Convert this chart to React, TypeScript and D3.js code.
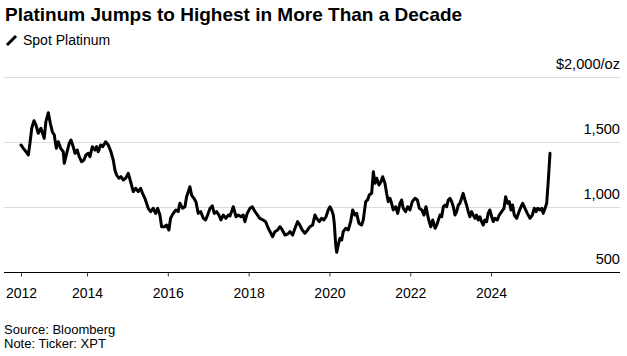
import React, { useEffect, useRef } from 'react';
import * as d3 from 'd3';

const TITLE = 'Platinum Jumps to Highest in More Than a Decade';
const LEGEND_LABEL = 'Spot Platinum';
const SOURCE = 'Source: Bloomberg';
const NOTE = 'Note: Ticker: XPT';

const Y_TICKS = [500, 1000, 1500, 2000];
const Y_TICK_LABELS = ['500', '1,000', '1,500', '$2,000/oz'];
const X_TICK_YEARS = ['2014-01-01', '2016-01-01', '2018-01-01', '2020-01-01', '2022-01-01', '2024-01-01'];

const DATES = [
  '2012-05-14','2012-06-04','2012-06-28','2012-07-19','2012-08-03','2012-08-19','2012-09-08','2012-09-26','2012-10-17','2012-11-10',
  '2012-11-25','2012-12-10','2012-12-25','2013-01-16','2013-02-03','2013-02-21','2013-03-11','2013-03-29','2013-04-16','2013-05-08',
  '2013-05-31','2013-06-09','2013-07-01','2013-07-24','2013-08-09','2013-08-29','2013-09-14','2013-10-04','2013-10-22','2013-11-13',
  '2013-12-04','2013-12-22','2014-01-12','2014-01-27','2014-02-18','2014-03-14','2014-03-28','2014-04-12','2014-05-04','2014-05-22',
  '2014-06-18','2014-07-12','2014-08-05','2014-08-26','2014-09-10','2014-09-25','2014-10-16','2014-11-03','2014-11-24','2014-12-16',
  '2015-01-09','2015-01-30','2015-02-23','2015-03-16','2015-04-09','2015-04-30','2015-05-18','2015-06-08','2015-07-08','2015-07-30',
  '2015-08-22','2015-09-13','2015-10-01','2015-10-22','2015-11-06','2015-11-29','2015-12-21','2016-01-11','2016-01-26','2016-02-19',
  '2016-03-14','2016-04-04','2016-04-19','2016-05-14','2016-06-04','2016-06-19','2016-07-19','2016-08-03','2016-08-24','2016-09-11',
  '2016-10-02','2016-10-24','2016-11-17','2016-12-08','2016-12-26','2017-01-17','2017-02-06','2017-02-24','2017-03-17','2017-04-07',
  '2017-04-25','2017-05-16','2017-06-09','2017-07-01','2017-07-16','2017-08-15','2017-09-09','2017-09-29','2017-10-24','2017-11-13',
  '2017-11-28','2017-12-19','2018-01-13','2018-02-03','2018-02-27','2018-03-22','2018-04-12','2018-05-12','2018-06-03','2018-06-27',
  '2018-07-21','2018-08-06','2018-08-26','2018-09-20','2018-10-11','2018-11-01','2018-11-25','2018-12-20','2019-01-10','2019-02-03',
  '2019-02-24','2019-03-19','2019-04-09','2019-04-30','2019-05-24','2019-06-18','2019-07-09','2019-08-02','2019-08-23','2019-09-07',
  '2019-10-01','2019-10-22','2019-11-12','2019-12-01','2019-12-21','2020-01-06','2020-01-21','2020-02-05','2020-02-14','2020-02-27',
  '2020-03-07','2020-03-21','2020-04-05','2020-04-21','2020-05-05','2020-05-27','2020-06-19','2020-07-11','2020-07-29','2020-08-19',
  '2020-09-03','2020-09-24','2020-10-18','2020-11-02','2020-11-24','2020-12-11','2020-12-26','2021-01-17','2021-02-01','2021-02-16',
  '2021-03-03','2021-03-24','2021-04-11','2021-04-26','2021-05-17','2021-06-01','2021-06-16','2021-07-01','2021-07-16','2021-07-31',
  '2021-08-22','2021-09-09','2021-09-30','2021-10-15','2021-10-29','2021-11-20','2021-12-08','2021-12-29','2022-01-19','2022-02-13',
  '2022-03-06','2022-03-24','2022-04-15','2022-05-05','2022-05-23','2022-06-13','2022-07-05','2022-07-23','2022-08-13','2022-08-28',
  '2022-09-12','2022-09-27','2022-10-12','2022-10-27','2022-11-11','2022-11-26','2022-12-11','2022-12-26','2023-01-10','2023-01-25',
  '2023-02-09','2023-02-24','2023-03-11','2023-03-26','2023-04-10','2023-04-24','2023-05-10','2023-05-25','2023-06-09','2023-06-24',
  '2023-07-09','2023-07-24','2023-08-08','2023-08-23','2023-09-07','2023-09-22','2023-10-08','2023-10-22','2023-11-06','2023-11-22',
  '2023-12-06','2023-12-21','2024-01-07','2024-01-21','2024-02-06','2024-02-27','2024-03-15','2024-04-06','2024-04-27','2024-05-12',
  '2024-05-30','2024-06-14','2024-06-29','2024-07-14','2024-07-29','2024-08-20','2024-09-10','2024-09-28','2024-10-13','2024-11-03',
  '2024-11-24','2024-12-18','2025-01-08','2025-01-26','2025-02-11','2025-02-26','2025-03-18','2025-04-03','2025-04-17','2025-05-03',
  '2025-05-18','2025-06-02','2025-06-17',
];

const VALUES = [
  1481,1455,1429,1404,1494,1609,1668,1635,1571,1609,
  1571,1532,1660,1729,1648,1583,1558,1455,1506,1455,
  1429,1340,1417,1494,1519,1468,1417,1442,1391,1352,
  1365,1404,1417,1391,1468,1442,1468,1429,1481,1468,
  1506,1481,1429,1365,1288,1250,1225,1237,1212,1225,
  1263,1198,1122,1148,1122,1148,1109,1071,994,968,
  994,955,994,942,852,852,865,827,917,955,
  981,968,1032,994,1006,1083,1160,1096,1071,1045,
  955,968,917,904,942,994,1012,955,968,942,
  904,942,917,942,935,1006,929,942,929,942,
  891,955,994,1006,968,942,917,904,891,840,
  802,775,814,827,852,827,788,796,814,788,
  840,891,865,827,802,827,852,865,942,917,
  891,917,904,929,981,1006,981,942,878,712,
  655,712,763,750,814,840,827,891,981,942,
  955,878,865,904,1045,1058,1096,1109,1275,1186,
  1225,1173,1198,1237,1186,1109,1045,1071,1032,981,
  1006,955,1032,1058,994,968,1006,981,1045,1071,
  1058,994,981,942,1006,917,852,904,840,865,
  904,942,929,1006,1019,1006,1058,1071,1045,1006,
  942,968,1019,1032,1071,1109,1058,1019,968,929,
  968,942,917,942,904,929,891,865,904,891,
  955,981,929,891,917,904,942,968,994,1083,
  1032,1045,981,1019,942,917,968,1006,1032,994,
  955,917,942,994,968,994,981,994,955,994,
  1032,1212,1417,
];

const FONT = '"Liberation Sans", Arial, Helvetica, sans-serif';

export default function App() {
  const ref = useRef<SVGSVGElement>(null);

  useEffect(() => {
    const svg = d3.select(ref.current);
    svg.selectAll('*').remove();

    const parse = d3.utcParse('%Y-%m-%d');
    const data = DATES.map((d, i) => ({ date: parse(d) as Date, value: VALUES[i] }));

    const plotLeft = 21;
    const plotRight = 550;
    const gridLeft = 4;
    const gridRight = 620;

    const x = d3
      .scaleUtc()
      .domain(d3.extent(data, (d) => d.date) as [Date, Date])
      .range([plotLeft, plotRight]);
    const y = d3.scaleLinear().domain([500, 2000]).range([272.5, 77.5]);

    // Title
    svg
      .append('text')
      .attr('x', 5)
      .attr('y', 21)
      .attr('font-family', FONT)
      .attr('font-weight', 700)
      .attr('font-size', 19)
      .attr('fill', '#000')
      .text(TITLE);

    // Legend
    svg
      .append('line')
      .attr('x1', 7)
      .attr('y1', 45)
      .attr('x2', 16)
      .attr('y2', 36)
      .attr('stroke', '#000')
      .attr('stroke-width', 3)
      .attr('stroke-linecap', 'butt');
    svg
      .append('text')
      .attr('x', 23)
      .attr('y', 45)
      .attr('font-family', FONT)
      .attr('font-size', 14)
      .attr('fill', '#000')
      .text(LEGEND_LABEL);

    // Gridlines
    const grid = svg.append('g');
    grid
      .selectAll('line')
      .data(Y_TICKS.filter((t) => t !== 500))
      .join('line')
      .attr('x1', gridLeft)
      .attr('x2', gridRight)
      .attr('y1', (d) => y(d))
      .attr('y2', (d) => y(d))
      .attr('stroke', '#dcdcdc')
      .attr('stroke-width', 1);

    // Y labels
    svg
      .append('g')
      .selectAll('text')
      .data(Y_TICKS)
      .join('text')
      .attr('x', gridRight)
      .attr('y', (d) => y(d) - 9)
      .attr('text-anchor', 'end')
      .attr('font-family', FONT)
      .attr('font-size', 14.6)
      .attr('fill', '#000')
      .text((d, i) => Y_TICK_LABELS[i]);

    // X axis
    const tickDates = [data[0].date, ...X_TICK_YEARS.map((s) => parse(s) as Date)];
    const xAxis = d3
      .axisBottom(x)
      .tickValues(tickDates)
      .tickFormat((d) => d3.utcFormat('%Y')(d as Date))
      .tickSize(4)
      .tickPadding(11.5);
    const gx = svg.append('g').attr('transform', `translate(0,${y(500)})`).call(xAxis);
    gx.select('.domain').remove();
    gx.selectAll('.tick line').attr('stroke', '#333');
    gx.selectAll('.tick text')
      .attr('font-family', FONT)
      .attr('font-size', 14)
      .attr('fill', '#000');

    svg
      .append('line')
      .attr('x1', gridLeft)
      .attr('x2', gridRight)
      .attr('y1', y(500))
      .attr('y2', y(500))
      .attr('stroke', '#000')
      .attr('stroke-width', 1);

    // Line
    const line = d3
      .line<{ date: Date; value: number }>()
      .x((d) => x(d.date))
      .y((d) => y(d.value));
    svg
      .append('path')
      .datum(data)
      .attr('d', line)
      .attr('fill', 'none')
      .attr('stroke', '#000')
      .attr('stroke-width', 3)
      .attr('stroke-linejoin', 'round')
      .attr('stroke-linecap', 'round');

    // Footer
    svg
      .append('text')
      .attr('x', 4)
      .attr('y', 334)
      .attr('font-family', FONT)
      .attr('font-size', 13)
      .attr('fill', '#000')
      .text(SOURCE);
    svg
      .append('text')
      .attr('x', 4)
      .attr('y', 348)
      .attr('font-family', FONT)
      .attr('font-size', 13)
      .attr('fill', '#000')
      .text(NOTE);
  }, []);

  return (
    <svg
      ref={ref}
      width={627}
      height={356}
      style={{ position: 'absolute', left: 0, top: 0, background: '#fff' }}
    />
  );
}
